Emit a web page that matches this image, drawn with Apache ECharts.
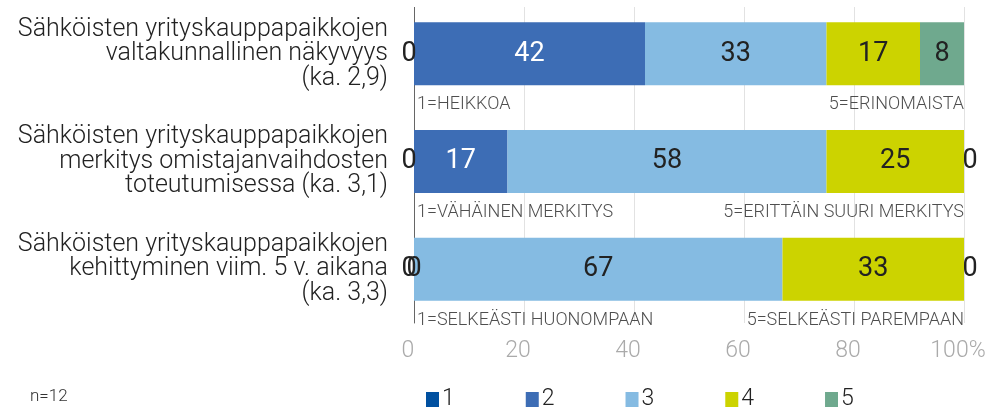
<!DOCTYPE html>
<html>
<head>
<meta charset="utf-8">
<script src="https://cdn.jsdelivr.net/npm/echarts@6/dist/echarts.min.js"></script>
<style>
  html, body { margin: 0; padding: 0; background: #fff; }
  #chart { width: 991px; height: 409px; }
</style>
</head>
<body>
<div id="chart"></div>
<script>
const categories = [
  "Sähköisten yrityskauppapaikkojen\nvaltakunnallinen näkyvyys\n(ka. 2,9)",
  "Sähköisten yrityskauppapaikkojen\nmerkitys omistajanvaihdosten\ntoteutumisessa (ka. 3,1)",
  "Sähköisten yrityskauppapaikkojen\nkehittyminen viim. 5 v. aikana\n(ka. 3,3)"
];
const seriesNames = ["1", "2", "3", "4", "5"];
const s1 = [0, 0, 0];
const s2 = [42, 17, 0];
const s3 = [33, 58, 67];
const s4 = [17, 25, 33];
const s5 = [8, 0, 0];
const lowLabels = ["1=HEIKKOA", "1=VÄHÄINEN MERKITYS", "1=SELKEÄSTI HUONOMPAAN"];
const highLabels = ["5=ERINOMAISTA", "5=ERITTÄIN SUURI MERKITYS", "5=SELKEÄSTI PAREMPAAN"];
const xTicks = [0, 20, 40, 60, 80, 100];

const colors = ["#0050A0", "#3D6DB5", "#85BBE2", "#CCD300", "#6FA98E"];
const labelColors = ["#fff", "#fff", "#222", "#222", "#222"];
// zero-value labels are nudged a bit, like in the original
const zeroOffsets = [[-5, 0], [0, 0], [0, 0], [0, 0], [6, 0]];
const font = "Roboto, 'Noto Sans', sans-serif";

let chart = echarts.init(document.getElementById("chart"));

const allData = [s1, s2, s3, s4, s5];
let series = [];
for (let i = 0; i < allData.length; i++) {
  series.push({
    name: seriesNames[i],
    type: "bar",
    stack: "total",
    barWidth: 63,
    itemStyle: { color: colors[i] },
    label: {
      show: true,
      position: "inside",
      color: labelColors[i],
      fontSize: 27,
      fontFamily: font,
    },
    data: allData[i].map(function (v) {
      if (v === 0) {
        return { value: v, label: { offset: zeroOffsets[i], color: "#222" } };
      }
      return v;
    }),
  });
}
// scale end texts under each bar
series.push({
  type: "scatter",
  symbolSize: 0,
  silent: true,
  label: {
    show: true,
    position: "inside",
    align: "left",
    offset: [3, 51],
    fontSize: 18,
    fontWeight: 300,
    color: "#222",
    fontFamily: font,
    formatter: function (p) { return lowLabels[p.dataIndex]; },
  },
  data: categories.map(function (c, i) { return [0, i]; }),
});
series.push({
  type: "scatter",
  symbolSize: 0,
  silent: true,
  label: {
    show: true,
    position: "inside",
    align: "right",
    offset: [0, 51],
    fontSize: 18,
    fontWeight: 300,
    color: "#222",
    fontFamily: font,
    formatter: function (p) { return highLabels[p.dataIndex]; },
  },
  data: categories.map(function (c, i) { return [100, i]; }),
});

let option = {
  backgroundColor: "#fff",
  animation: false,
  textStyle: { fontFamily: font },
  grid: {
    left: 414,
    width: 550,
    top: -6,
    height: 329,
    containLabel: false,
  },
  legend: {
    data: seriesNames,
    left: 421,
    top: 383,
    icon: "rect",
    itemWidth: 13,
    itemHeight: 15,
    itemGap: 71,
    textStyle: { fontSize: 23, fontWeight: 300, color: "#222", fontFamily: font, padding: [0, 0, 0, -2] },
  },
  xAxis: {
    type: "value",
    min: 0,
    max: 100,
    interval: 20,
    axisLine: { show: false },
    axisTick: { show: false },
    axisLabel: {
      color: "#aaa",
      fontSize: 23,
      fontWeight: 300,
      margin: 17,
      padding: [0, 12, 0, 0],
      formatter: function (v) {
        return v === xTicks[xTicks.length - 1] ? v + "%" : String(v);
      },
    },
    splitLine: { show: true, lineStyle: { color: "#e2e2e2", width: 1 } },
  },
  yAxis: {
    type: "category",
    inverse: true,
    data: categories,
    axisLine: { show: true, lineStyle: { color: "#666", width: 1 } },
    axisTick: { show: false },
    axisLabel: {
      color: "#222",
      fontSize: 25,
      fontWeight: 300,
      lineHeight: 24.5,
      margin: 26,
      align: "right",
      padding: [0, 0, 10, 0],
    },
  },
  graphic: [
    {
      type: "rect",
      left: 380,
      top: 0,
      z: 100,
      shape: { width: 600, height: 7 },
      style: { fill: "#fff" },
    },
    {
      type: "text",
      left: 30,
      top: 388,
      style: { text: "n=12", fontSize: 17, fontWeight: 300, fill: "#333", fontFamily: font },
    },
  ],
  series: series,
};

chart.setOption(option);
</script>
</body>
</html>
